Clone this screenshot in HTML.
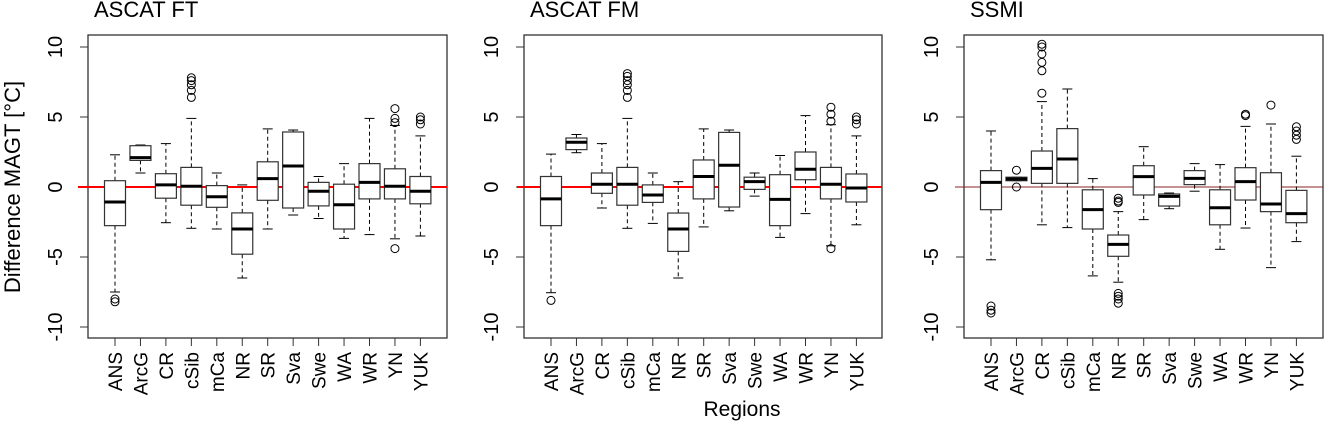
<!DOCTYPE html>
<html><head><meta charset="utf-8"><style>
body{margin:0;background:#fff;width:1326px;height:421px;overflow:hidden}
svg{display:block;font-family:"Liberation Sans",sans-serif}
</style></head><body>
<svg id="c" width="1326" height="421"></svg>
<script>
const categories=["ANS","ArcG","CR","cSib","mCa","NR","SR","Sva","Swe","WA","WR","YN","YUK"];
const titles=["ASCAT FT","ASCAT FM","SSMI"];
const yTicks=[-10,-5,0,5,10];
// each stat: [lowWhisker, q1, median, q3, highWhisker]
const ftStats=[[-7.5,-2.76,-1.07,0.45,2.3],[1.0,1.9,2.1,2.95,3.0],[-2.55,-0.8,0.15,0.95,3.1],[-2.95,-1.3,0.05,1.4,4.9],[-3.0,-1.45,-0.7,0.1,1.0],[-6.5,-4.8,-3.0,-1.85,0.15],[-3.0,-0.95,0.6,1.8,4.15],[-2.0,-1.5,1.5,3.93,4.07],[-2.25,-1.35,-0.3,0.33,0.75],[-3.67,-3.0,-1.27,0.2,1.67],[-3.4,-0.85,0.33,1.67,4.9],[-3.7,-0.85,0.05,1.3,4.4],[-3.5,-1.2,-0.3,0.75,3.65]];
const ftOut=[[-8.0,-8.2],[],[],[6.4,6.9,7.3,7.6,7.8],[],[],[],[],[],[],[],[4.6,4.9,5.6,-4.4],[4.5,4.8,5.0]];
const fmStats=[[-7.55,-2.76,-0.85,0.75,2.35],[2.45,2.67,3.2,3.5,3.75],[-1.5,-0.45,0.2,1.0,3.1],[-2.95,-1.3,0.2,1.4,4.9],[-2.6,-1.1,-0.57,0.15,1.0],[-6.5,-4.6,-3.0,-1.86,0.38],[-2.85,-0.85,0.75,1.93,4.15],[-1.7,-1.43,1.55,3.9,4.07],[-0.65,-0.17,0.38,0.7,1.0],[-3.6,-2.76,-0.88,0.88,2.25],[-1.9,0.52,1.27,2.5,5.1],[-4.2,-0.85,0.2,1.4,4.45],[-2.7,-1.07,-0.07,0.93,3.65]];
const fmOut=[[-8.1],[],[],[6.4,6.9,7.3,7.6,7.9,8.1],[],[],[],[],[],[],[],[4.7,5.2,5.7,-4.4],[4.5,4.8,5.0]];
const ssStats=[[-5.2,-1.62,0.33,1.17,4.0],[0.45,0.45,0.57,0.7,0.7],[-2.7,0.26,1.33,2.57,6.1],[-2.9,0.26,2.0,4.17,7.0],[-6.35,-3.0,-1.62,-0.2,0.6],[-6.8,-4.95,-4.1,-3.43,-1.76],[-2.33,-0.57,0.74,1.52,2.88],[-1.55,-1.36,-0.67,-0.5,-0.43],[-0.3,0.17,0.62,1.17,1.67],[-4.45,-2.7,-1.48,-0.2,1.6],[-2.93,-0.93,0.38,1.38,4.33],[-5.76,-1.76,-1.21,1.02,4.5],[-3.9,-2.55,-1.9,-0.24,2.2]];
const ssOut=[[-8.5,-8.8,-9.0],[1.2,0.0],[6.7,8.3,8.9,9.5,10.0,10.2],[],[],[-0.8,-1.0,-1.1,-7.6,-7.8,-8.0,-8.3],[],[],[],[],[5.1,5.2],[5.85],[3.4,3.7,4.0,4.3]];

const svg=document.getElementById('c');const NS="http://www.w3.org/2000/svg";
function mk(t,a,p){const e=document.createElementNS(NS,t);for(const k in a)e.setAttribute(k,a[k]);(p||svg).appendChild(e);return e;}
const y=v=>187-v*14;
const panels=[{bx:88,bw:359,x0:115,stats:ftStats,out:ftOut,zx:78,zw:2,col:"#f00"},
{bx:524,bw:358,x0:551,stats:fmStats,out:fmOut,zx:517,zw:2,col:"#f00"},
{bx:964,bw:359,x0:991,stats:ssStats,out:ssOut,zx:955,zw:1,col:"#822"}];
const step=25.45;
panels.forEach((P,pi)=>{
  const g=mk('g',{});
  
  
  const t=mk('text',{x:P.bx+6,y:17,'font-size':22,fill:'#000'},g);t.textContent=titles[pi];
  
  const fr=mk('rect',{x:P.bx,y:35,width:P.bw,height:303,fill:'none',stroke:'#333','stroke-width':1.3},g);
  
  yTicks.forEach(v=>{
    mk('line',{x1:P.bx-8,x2:P.bx,y1:y(v),y2:y(v),stroke:'#333'},g);
    const tl=mk('text',{transform:`translate(${P.bx-26},${y(v)}) rotate(-90)`,'text-anchor':'middle','font-size':20,fill:'#000'},g);
    tl.textContent=v;
  });
  const z=mk('line',{x1:P.zx,x2:P.bx+P.bw,y1:y(0),y2:y(0),stroke:P.col,'stroke-width':P.zw},g);
  
  categories.forEach((c,i)=>{
    const cx=P.x0+i*step,s=P.stats[i],hw=10.5,cw=5;
    mk('line',{x1:cx,x2:cx,y1:338,y2:346,stroke:'#333'},g);
    const cl=mk('text',{transform:`translate(${cx+7},352) rotate(-90)`,'text-anchor':'end','font-size':19,fill:'#000'},g);
    cl.textContent=c;
    const bg=mk('g',{},g);
    
    
    mk('line',{x1:cx,x2:cx,y1:y(s[3]),y2:y(s[4]),stroke:'#000','stroke-dasharray':'4,3'},bg);
    mk('line',{x1:cx,x2:cx,y1:y(s[1]),y2:y(s[0]),stroke:'#000','stroke-dasharray':'4,3'},bg);
    mk('line',{x1:cx-cw,x2:cx+cw,y1:y(s[4]),y2:y(s[4]),stroke:'#000'},bg);
    mk('line',{x1:cx-cw,x2:cx+cw,y1:y(s[0]),y2:y(s[0]),stroke:'#000'},bg);
    mk('rect',{x:cx-hw,y:y(s[3]),width:2*hw,height:Math.max(1,y(s[1])-y(s[3])),fill:'#fff',stroke:'#333','stroke-width':1.2},bg);
    mk('line',{x1:cx-hw,x2:cx+hw,y1:y(s[2]),y2:y(s[2]),stroke:'#000','stroke-width':3},bg);
    P.out[i].forEach(o=>mk('circle',{cx:cx,cy:y(o),r:4,fill:'none',stroke:'#000'},bg));
  });
});
const yt=mk('text',{transform:'translate(20,187) rotate(-90)','text-anchor':'middle','font-size':22,fill:'#000'});
yt.textContent='Difference MAGT [°C]';


const xt=mk('text',{x:742,y:416,'text-anchor':'middle','font-size':21,fill:'#000'});
xt.textContent='Regions';


</script>
</body></html>
